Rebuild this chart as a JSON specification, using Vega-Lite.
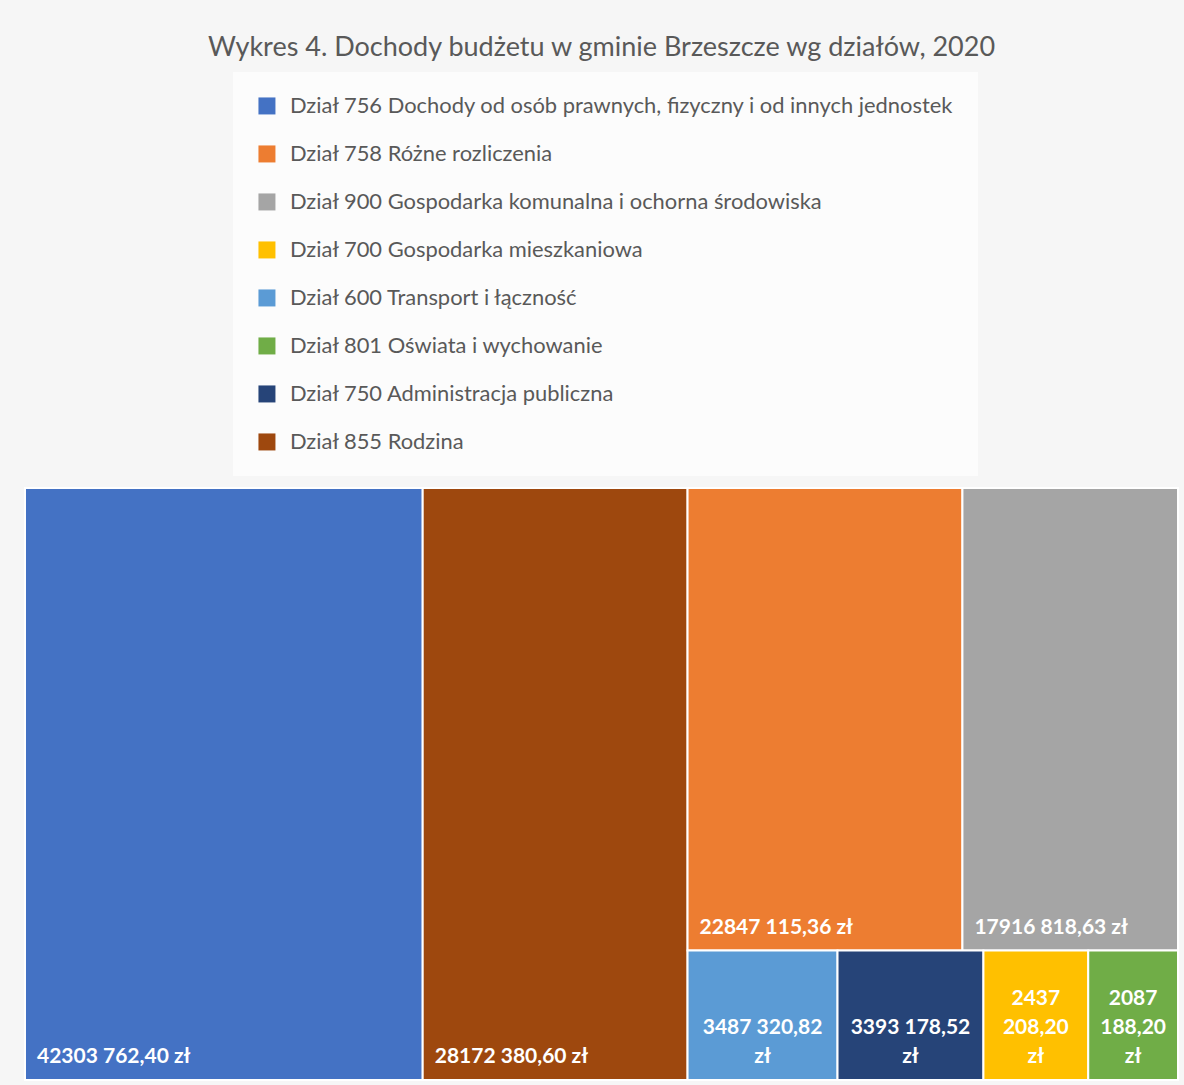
{
  "$schema": "https://vega.github.io/schema/vega-lite/v6.json",
  "width": 1153,
  "height": 592,
  "autosize": {"type": "none"},
  "padding": {"left": 25, "top": 488, "right": 6, "bottom": 5},
  "background": "#f6f6f6",
  "title": {
    "text": "Wykres 4. Dochody budżetu w gminie Brzeszcze wg działów, 2020",
    "anchor": "middle",
    "frame": "group",
    "font": "Lato",
    "fontSize": 27,
    "fontWeight": "normal",
    "color": "#595959",
    "offset": 10
  },
  "config": {
    "view": {"stroke": null},
    "legend": {
      "symbolType": "square",
      "symbolSize": 289,
      "symbolStrokeWidth": 0,
      "symbolOpacity": 1,
      "labelFont": "Lato",
      "labelFontSize": 21.9,
      "labelColor": "#595959",
      "labelOffset": 12,
      "labelLimit": 1000,
      "rowPadding": 25,
      "padding": 23,
      "fillColor": "#fcfcfc"
    }
  },
  "data": {
    "values": [
      {"dzial": "Dział 756 Dochody od osób prawnych, fizyczny i od innych jednostek", "value": 42303762.40, "label": "42303 762,40 zł"},
      {"dzial": "Dział 855 Rodzina", "value": 28172380.60, "label": "28172 380,60 zł"},
      {"dzial": "Dział 758 Różne rozliczenia", "value": 22847115.36, "label": "22847 115,36 zł"},
      {"dzial": "Dział 900 Gospodarka komunalna i ochorna środowiska", "value": 17916818.63, "label": "17916 818,63 zł"},
      {"dzial": "Dział 600 Transport i łączność", "value": 3487320.82, "label": "3487 320,82\nzł"},
      {"dzial": "Dział 750 Administracja publiczna", "value": 3393178.52, "label": "3393 178,52\nzł"},
      {"dzial": "Dział 700 Gospodarka mieszkaniowa", "value": 2437208.20, "label": "2437\n208,20\nzł"},
      {"dzial": "Dział 801 Oświata i wychowanie", "value": 2087188.20, "label": "2087\n188,20\nzł"}
    ]
  },
  "transform": [
    {"window": [{"op": "row_number", "as": "rank"}], "sort": [{"field": "value", "order": "descending"}]},
    {"calculate": "datum.rank <= 1 ? 'A' : datum.rank <= 2 ? 'B' : datum.rank <= 4 ? 'C1' : 'C2'", "as": "grp"},
    {"calculate": "datum.rank <= 2 ? datum.value : 0", "as": "abv"},
    {"calculate": "datum.grp === 'C1' ? datum.value : 0", "as": "c1v"},
    {"joinaggregate": [{"op": "sum", "field": "value", "as": "total"}, {"op": "sum", "field": "abv", "as": "AB"}, {"op": "sum", "field": "c1v", "as": "C1"}]},
    {"joinaggregate": [{"op": "sum", "field": "value", "as": "gsum"}], "groupby": ["grp"]},
    {"window": [{"op": "sum", "field": "value", "as": "gcum"}], "groupby": ["grp"], "sort": [{"field": "rank", "order": "ascending"}], "frame": [null, 0]},
    {"window": [{"op": "sum", "field": "value", "as": "cum"}], "sort": [{"field": "rank", "order": "ascending"}], "frame": [null, 0]},
    {"calculate": "datum.rank <= 2 ? datum.cum - datum.value : datum.AB + (datum.gcum - datum.value) / datum.gsum * (datum.total - datum.AB)", "as": "x0"},
    {"calculate": "datum.rank <= 2 ? datum.cum : datum.AB + datum.gcum / datum.gsum * (datum.total - datum.AB)", "as": "x1"},
    {"calculate": "datum.grp === 'C1' ? 1 - datum.C1 / (datum.total - datum.AB) : 0", "as": "y0"},
    {"calculate": "datum.grp === 'C2' ? 1 - datum.C1 / (datum.total - datum.AB) : 1", "as": "y1"},
    {"calculate": "(datum.x0 + datum.x1) / 2", "as": "xm"},
    {"calculate": "length(split(datum.label, '\\n'))", "as": "nlines"}
  ],
  "layer": [
    {
      "mark": {"type": "rect", "stroke": "white", "strokeWidth": 2},
      "encoding": {
        "x": {"field": "x0", "type": "quantitative", "axis": null, "scale": {"nice": false, "zero": true}},
        "x2": {"field": "x1"},
        "y": {"field": "y0", "type": "quantitative", "axis": null, "scale": {"nice": false, "domain": [0, 1]}},
        "y2": {"field": "y1"},
        "color": {
          "field": "dzial",
          "type": "nominal",
          "scale": {
            "domain": [
              "Dział 756 Dochody od osób prawnych, fizyczny i od innych jednostek",
              "Dział 758 Różne rozliczenia",
              "Dział 900 Gospodarka komunalna i ochorna środowiska",
              "Dział 700 Gospodarka mieszkaniowa",
              "Dział 600 Transport i łączność",
              "Dział 801 Oświata i wychowanie",
              "Dział 750 Administracja publiczna",
              "Dział 855 Rodzina"
            ],
            "range": ["#4472C4", "#ED7D31", "#A5A5A5", "#FFC000", "#5B9BD5", "#70AD47", "#264478", "#9E480E"]
          },
          "legend": {"orient": "none", "legendX": 208, "legendY": -416, "title": null}
        }
      }
    },
    {
      "transform": [{"filter": "datum.nlines === 1"}],
      "mark": {"type": "text", "align": "left", "baseline": "bottom", "dx": 12, "dy": -13, "font": "Lato", "fontSize": 21, "fontWeight": "bold", "color": "white"},
      "encoding": {
        "x": {"field": "x0", "type": "quantitative"},
        "y": {"field": "y0", "type": "quantitative"},
        "text": {"field": "label"}
      }
    },
    {
      "transform": [{"filter": "datum.nlines === 2"}],
      "mark": {"type": "text", "align": "center", "baseline": "bottom", "dy": -42, "lineBreak": "\n", "lineHeight": 29, "font": "Lato", "fontSize": 21, "fontWeight": "bold", "color": "white"},
      "encoding": {
        "x": {"field": "xm", "type": "quantitative"},
        "y": {"field": "y0", "type": "quantitative"},
        "text": {"field": "label"}
      }
    },
    {
      "transform": [{"filter": "datum.nlines === 3"}],
      "mark": {"type": "text", "align": "center", "baseline": "bottom", "dy": -71, "lineBreak": "\n", "lineHeight": 29, "font": "Lato", "fontSize": 21, "fontWeight": "bold", "color": "white"},
      "encoding": {
        "x": {"field": "xm", "type": "quantitative"},
        "y": {"field": "y0", "type": "quantitative"},
        "text": {"field": "label"}
      }
    }
  ]
}
